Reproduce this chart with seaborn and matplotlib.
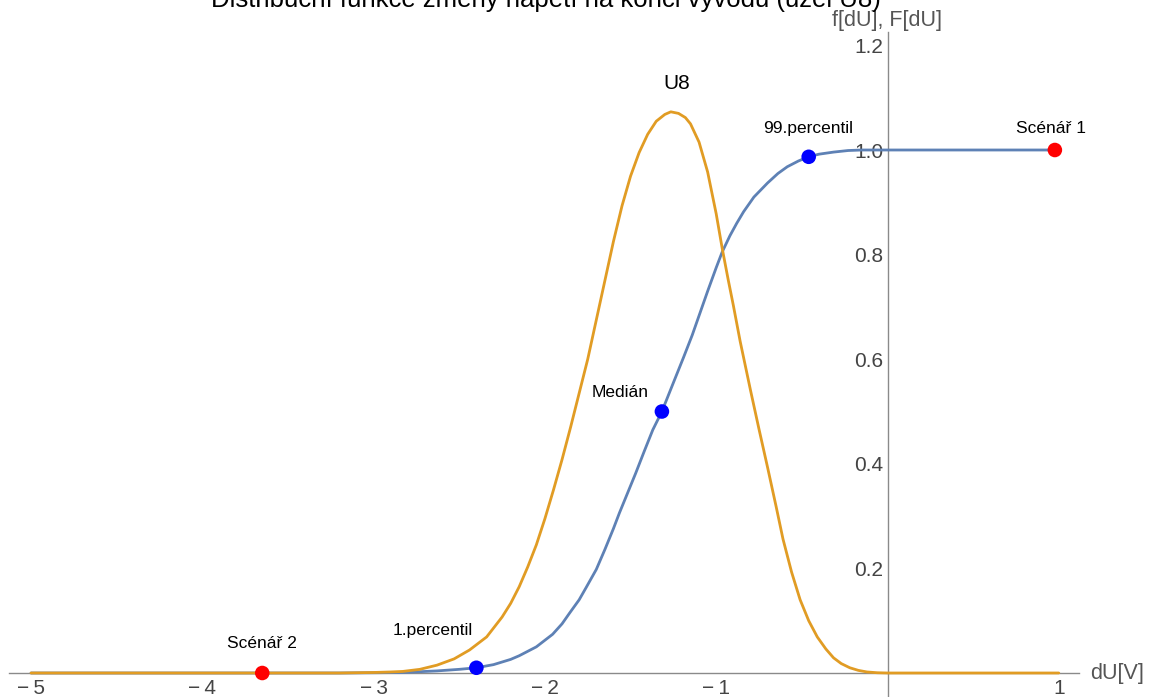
import matplotlib
matplotlib.use("Agg")
import matplotlib.pyplot as plt
import seaborn as sns
import pandas as pd

# ---- data ----
pdf_x = [-5.0, -3.2, -3.0, -2.9, -2.83, -2.73, -2.63, -2.53, -2.44, -2.34, -2.25, -2.20,
         -2.15, -2.10, -2.05, -2.00, -1.95, -1.90, -1.85, -1.80, -1.75, -1.70, -1.65,
         -1.60, -1.55, -1.50, -1.45, -1.40, -1.35, -1.30, -1.265, -1.22, -1.18, -1.15,
         -1.10, -1.05, -1.00, -0.965, -0.93, -0.90, -0.86, -0.80, -0.75, -0.70, -0.65,
         -0.61, -0.56, -0.51, -0.46, -0.41, -0.36, -0.315, -0.27, -0.22, -0.17, -0.12,
         -0.06, 0.0, 1.0]
pdf_y = [0.0, 0.0, 0.001, 0.002, 0.003, 0.007, 0.015, 0.027, 0.044, 0.069, 0.107, 0.133,
         0.165, 0.203, 0.245, 0.295, 0.35, 0.408, 0.47, 0.535, 0.60, 0.675, 0.75,
         0.825, 0.893, 0.950, 0.995, 1.03, 1.055, 1.068, 1.073, 1.07, 1.062, 1.05,
         1.015, 0.958, 0.878, 0.812, 0.752, 0.703, 0.634, 0.541, 0.466, 0.393, 0.318,
         0.256, 0.193, 0.14, 0.1, 0.069, 0.046, 0.029, 0.018, 0.01, 0.005, 0.002,
         0.0005, 0.0, 0.0]

cdf_x = [-5.0, -3.2, -3.0, -2.83, -2.63, -2.5, -2.40, -2.3, -2.2, -2.15, -2.05, -1.955,
         -1.90, -1.855, -1.80, -1.76, -1.70, -1.65, -1.60, -1.565, -1.52, -1.47, -1.42,
         -1.37, -1.317, -1.25, -1.19, -1.14, -1.095, -1.05, -1.00, -0.965, -0.92, -0.88,
         -0.84, -0.78, -0.70, -0.64, -0.585, -0.52, -0.46, -0.40, -0.315, -0.23, -0.15,
         1.0]
cdf_y = [0.0, 0.0, 0.0005, 0.001, 0.004, 0.007, 0.01, 0.016, 0.026, 0.033, 0.05, 0.074,
         0.094, 0.115, 0.14, 0.163, 0.198, 0.236, 0.276, 0.306, 0.342, 0.382, 0.424,
         0.465, 0.5, 0.555, 0.604, 0.646, 0.688, 0.73, 0.775, 0.805, 0.836, 0.86,
         0.882, 0.91, 0.937, 0.955, 0.968, 0.979, 0.987, 0.992, 0.996, 0.999, 1.0,
         1.0]

pct_names = ["1.percentil", "Medián", "99.percentil"]
pct_x = [-2.40, -1.317, -0.46]
pct_y = [0.01, 0.5, 0.987]

scen_names = ["Scénář 1", "Scénář 2"]
scen_x = [0.977, -3.65]
scen_y = [1.0, 0.0]

x_ticks = [-5, -4, -3, -2, -1, 1]
y_ticks = [0.2, 0.4, 0.6, 0.8, 1.0, 1.2]

title = "Distribuční funkce změny napětí na konci vývodu (uzel U8)"
curve_label = "U8"

# ---- drawing ----
sns.set_style("white")
plt.rcParams["font.family"] = ["Liberation Sans", "DejaVu Sans"]

W, H = 1157, 697
fig = plt.figure(figsize=(W / 100, H / 100), dpi=100)
ax = fig.add_axes([0, 0, 1, 1])
ax.patch.set_alpha(0)

# pixel mapping: x0 at px 887.5, 171.3 px/unit ; y0 at py 673, 523 px/unit
x0, sx = 887.5, 171.3
y0, sy = 673.0, 523.0
ax.set_xlim(-x0 / sx, (W - x0) / sx)
ax.set_ylim(-(H - y0) / sy, y0 / sy)

blue = "#5E81B5"
orange = "#E19C24"

cdf_df = pd.DataFrame({"x": cdf_x, "y": cdf_y})
pdf_df = pd.DataFrame({"x": pdf_x, "y": pdf_y})
sns.lineplot(data=cdf_df, x="x", y="y", ax=ax, color=blue, lw=2.0, sort=False, zorder=3)
sns.lineplot(data=pdf_df, x="x", y="y", ax=ax, color=orange, lw=2.0, sort=False, zorder=4)

pct_df = pd.DataFrame({"x": pct_x, "y": pct_y})
scen_df = pd.DataFrame({"x": scen_x, "y": scen_y})
sns.scatterplot(data=pct_df, x="x", y="y", ax=ax, color="#0000FF", s=110,
                edgecolor="none", zorder=6)
sns.scatterplot(data=scen_df, x="x", y="y", ax=ax, color="#FF0000", s=110,
                edgecolor="none", zorder=6)

# spines as Mathematica-style axes through origin
for side in ["top", "right"]:
    ax.spines[side].set_visible(False)
axc = "#8a8a8a"
ax.spines["left"].set_position(("data", 0))
ax.spines["bottom"].set_position(("data", 0))
ax.spines["left"].set_color(axc)
ax.spines["bottom"].set_color(axc)
ax.spines["left"].set_linewidth(1.0)
ax.spines["bottom"].set_linewidth(1.0)
ax.spines["bottom"].set_bounds(-5.13, 1.12)
ax.spines["left"].set_bounds(-0.05, 1.225)

ax.set_xticks(x_ticks)
ax.set_xticklabels([f"{t}".replace("-", "\u2212\u2009") for t in x_ticks])
ax.set_yticks(y_ticks)
ax.set_yticklabels([f"{t:.1f}" for t in y_ticks])
ax.set_xticks([v / 5 for v in range(-25, 6) if v % 5 != 0], minor=True)
ax.set_yticks([v / 20 for v in range(1, 25) if v % 4 != 0], minor=True)
ax.tick_params(axis="both", which="major", direction="in", length=5, width=0.9,
               color=axc, labelcolor="#444444", labelsize=15)
ax.tick_params(axis="both", which="minor", direction="in", length=3, width=0.8,
               color=axc)
ax.tick_params(axis="x", pad=4)
ax.tick_params(axis="y", pad=3)
ax.set_xlabel("")
ax.set_ylabel("")

# axis labels
ax.text(1.185, 0.0, "dU[V]", ha="left", va="center", fontsize=15.5, color="#555555")
ax.text(0.0, 1.247, "f[dU], F[dU]", ha="center", va="center", fontsize=15.5,
        color="#555555")

# annotations
ax.text(-1.229, 1.128, curve_label, ha="center", va="center", fontsize=15, color="black")
ann_pos = {
    "1.percentil": (-2.653, 0.082),
    "Medián": (-1.562, 0.537),
    "99.percentil": (-0.464, 1.042),
}
for n in pct_names:
    ax.text(*ann_pos[n], n, ha="center", va="center", fontsize=12.5, color="black")
scen_pos = {"Scénář 1": (0.954, 1.042), "Scénář 2": (-3.652, 0.057)}
for n in scen_names:
    ax.text(*scen_pos[n], n, ha="center", va="center", fontsize=12.5, color="black")

# title, partially cut off at the top as in the reference
fig.text(546 / W, 1 - 7 / H, title, ha="center", va="baseline", fontsize=18.5,
         color="black")

fig.savefig("out.png", dpi=100)
